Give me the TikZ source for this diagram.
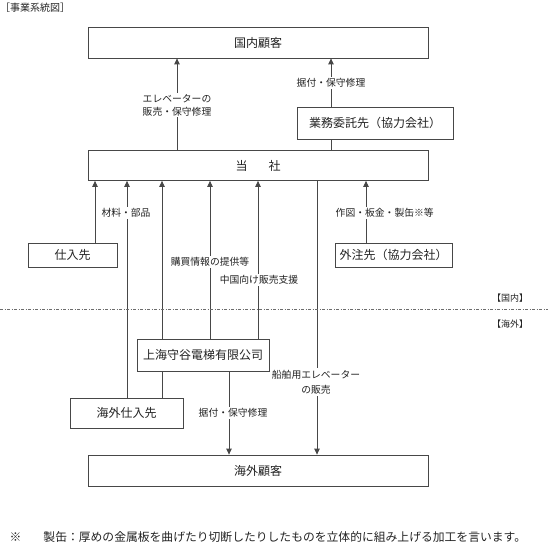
\documentclass[tikz,border=0pt]{standalone}
\usepackage{fontspec}
\setmainfont{Noto Sans CJK JP}
\usetikzlibrary{arrows.meta}
\definecolor{lncol}{HTML}{474747}
\definecolor{txcol}{HTML}{222222}
\tikzset{
  box/.style={draw=lncol, line width=0.8pt, text=txcol, font=\fontsize{12}{14}\selectfont, inner sep=0pt, anchor=center},
  wire/.style={draw=lncol, line width=0.8pt},
  arr/.style={draw=lncol, line width=0.8pt, -{Triangle[length=6pt,width=5.5pt]}},
  lbl/.style={fill=white, text=txcol, font=\fontsize{9.8}{13}\selectfont, inner sep=1.5pt, align=center},
  plain/.style={text=txcol, inner sep=0pt},
}
\begin{document}
\begin{tikzpicture}[x=1pt,y=-1pt]
\useasboundingbox (0,0) rectangle (548,545);
% title
\node[plain, anchor=west, font=\fontsize{10}{12}\selectfont] (title) at (0,8) {［事業系統図］};
% boxes
\node[box, minimum width=340pt, minimum height=31pt] (kokunai) at (258,42.5) {国内顧客};
\node[box, minimum width=340pt, minimum height=30pt] (tosha) at (258,165.5) {当\hspace{21pt}社};
\node[box, minimum width=156pt, minimum height=32pt] (gyomu) at (375,123) {業務委託先（協力会社）};
\node[box, minimum width=89pt, minimum height=24pt] (shiire) at (72.5,255) {仕入先};
\node[box, minimum width=117pt, minimum height=24pt] (gaichu) at (393.5,255) {外注先（協力会社）};
\node[box, minimum width=132pt, minimum height=32pt] (shanghai) at (203,355) {上海守谷電梯有限公司};
\node[box, minimum width=113pt, minimum height=30pt] (kaigaishiire) at (126.5,413) {海外仕入先};
\node[box, minimum width=340pt, minimum height=31pt] (kaigai) at (258,470.5) {海外顧客};
% x positions
\coordinate (x95) at (95,0);
\coordinate (x127) at (127,0);
\coordinate (x162) at (162,0);
\coordinate (x177) at (177,0);
\coordinate (x210) at (210,0);
\coordinate (x229) at (229,0);
\coordinate (x258) at (258,0);
\coordinate (x317) at (317,0);
\coordinate (x331) at (331,0);
\coordinate (x366) at (366,0);
% connectors
\draw[arr] (tosha.north -| x177) -- (kokunai.south -| x177);
\draw[wire] (tosha.north -| x331) -- (gyomu.south -| x331);
\draw[arr] (gyomu.north -| x331) -- (kokunai.south -| x331);
\draw[arr] (shiire.north -| x95) -- (tosha.south -| x95);
\draw[arr] (kaigaishiire.north -| x127) -- (tosha.south -| x127);
\draw[wire] (kaigaishiire.north -| x162) -- (shanghai.south -| x162);
\draw[arr] (shanghai.north -| x162) -- (tosha.south -| x162);
\draw[arr] (shanghai.north -| x210) -- (tosha.south -| x210);
\draw[arr] (shanghai.north -| x258) -- (tosha.south -| x258);
\draw[arr] (tosha.south -| x317) -- (kaigai.north -| x317);
\draw[arr] (shanghai.south -| x229) -- (kaigai.north -| x229);
\draw[arr] (gaichu.north -| x366) -- (tosha.south -| x366);
% boundary line
\coordinate (bl) at (0,309.5);
\coordinate (br) at (548,309.5);
\draw[draw=lncol!80, line width=0.7pt, dash pattern=on 3pt off 1.6pt on 0.8pt off 1.6pt] (bl) -- (br);
\node[plain, font=\fontsize{9}{11}\selectfont] (dom) at (510,298) {【国内】};
\node[plain, font=\fontsize{9}{11}\selectfont] (ovs) at (510,324) {【海外】};
% labels
\node[lbl] (l1) at (177,105) {エレベーターの\\販売・保守修理};
\node[lbl] (l2) at (331,83) {据付・保守修理};
\node[lbl] (l3) at (126,213) {材料・部品};
\node[lbl, anchor=west] (l4) at (334,213) {作図・板金・製缶※等};
\node[lbl] (l5) at (210,262) {購買情報の提供等};
\node[lbl] (l6) at (259,280) {中国向け販売支援};
\node[lbl, font=\fontsize{9.8}{15}\selectfont] (l7) at (316,382) {船舶用エレベーター\\の販売};
\node[lbl] (l8) at (233,413) {据付・保守修理};
% footnote
\node[plain, anchor=west, font=\fontsize{11.8}{14}\selectfont] (note) at (9.5,537) {※\hspace{22pt}製缶：厚めの金属板を曲げたり切断したりしたものを立体的に組み上げる加工を言います。};
\end{tikzpicture}
\end{document}
